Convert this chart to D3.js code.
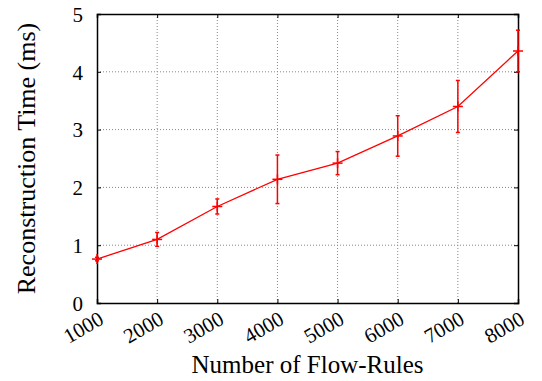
<!DOCTYPE html>
<html>
<head>
<meta charset="utf-8">
<script src="https://cdn.jsdelivr.net/npm/d3@7"></script>
</head>
<body style="margin:0">
<svg id="chart" width="542" height="381" font-family="Liberation Serif"></svg>
<script>
// chart data
var flowRules = [1000, 2000, 3000, 4000, 5000, 6000, 7000, 8000];
var recTime = [0.76, 1.10, 1.67, 2.14, 2.42, 2.89, 3.40, 4.36];
var recErr = [0.03, 0.12, 0.13, 0.42, 0.20, 0.35, 0.45, 0.36];
var yTicks = [0, 1, 2, 3, 4, 5];

var svgWidth = 542;
var svgHeight = 381;
var margin = { top: 14, right: 24, bottom: 78, left: 97 };
var width = svgWidth - margin.left - margin.right;
var height = svgHeight - margin.top - margin.bottom;

var svg = d3.select("#chart");

var chartGroup = svg
  .append("g")
  .attr("transform", `translate(${margin.left}, ${margin.top})`);

var x = d3.scaleLinear().domain([1000, 8000]).range([0, width]);
var y = d3.scaleLinear().domain([0, 5]).range([height, 0]);

// grid lines
chartGroup
  .append("g")
  .selectAll("line")
  .data(flowRules.slice(1, -1))
  .enter()
  .append("line")
  .attr("x1", (d) => x(d))
  .attr("x2", (d) => x(d))
  .attr("y1", 0)
  .attr("y2", height)
  .attr("stroke", "#888")
  .attr("stroke-width", 1)
  .attr("stroke-dasharray", "1,2");

chartGroup
  .append("g")
  .selectAll("line")
  .data(yTicks.slice(1, -1))
  .enter()
  .append("line")
  .attr("x1", 0)
  .attr("x2", width)
  .attr("y1", (d) => y(d))
  .attr("y2", (d) => y(d))
  .attr("stroke", "#888")
  .attr("stroke-width", 1)
  .attr("stroke-dasharray", "1,2");

// axes: ticks inward, mirrored
var bottomAxis = d3.axisBottom(x).tickValues(flowRules).tickSize(-4).tickFormat("");
var topAxis = d3.axisTop(x).tickValues(flowRules).tickSize(-4).tickFormat("");
var leftAxis = d3.axisLeft(y).tickValues(yTicks).tickSize(-4).tickPadding(14).tickFormat(d3.format("d"));
var rightAxis = d3.axisRight(y).tickValues(yTicks).tickSize(-4).tickFormat("");

chartGroup.append("g").attr("transform", `translate(0, ${height})`).call(bottomAxis);
chartGroup.append("g").call(topAxis);
var yAxis = chartGroup.append("g").call(leftAxis);
chartGroup.append("g").attr("transform", `translate(${width}, 0)`).call(rightAxis);

chartGroup.selectAll(".domain").attr("stroke", "#000").attr("stroke-width", 1.5);
chartGroup.selectAll(".tick line").attr("stroke", "#000");

// drop d3's default sans-serif on the axis groups
chartGroup.selectAll("g").attr("font-family", null).attr("font-size", null);
yAxis
  .selectAll("text")
  .attr("font-family", "Liberation Serif")
  .attr("font-size", 21)
  .attr("dy", "0.35em")
  .attr("fill", "#000");

// rotated x tick labels
chartGroup
  .append("g")
  .selectAll("text")
  .data(flowRules)
  .enter()
  .append("text")
  .attr("transform", (d) => `translate(${x(d) + 8}, ${height + 20}) rotate(-30)`)
  .attr("text-anchor", "end")
  .attr("font-family", "Liberation Serif")
  .attr("font-size", 21)
  .text((d) => d);

// line
var line = d3
  .line()
  .x((d, i) => x(flowRules[i]))
  .y((d) => y(d));

chartGroup
  .append("path")
  .datum(recTime)
  .attr("d", line)
  .attr("fill", "none")
  .attr("stroke", "#ff0000")
  .attr("stroke-width", 1.3);

// error bars
var errGroup = chartGroup
  .selectAll(".err")
  .data(recTime)
  .enter()
  .append("g")
  .attr("class", "err")
  .attr("stroke", "#ff0000")
  .attr("stroke-width", 1.5);

errGroup
  .append("line")
  .attr("x1", (d, i) => x(flowRules[i]))
  .attr("x2", (d, i) => x(flowRules[i]))
  .attr("y1", (d, i) => y(d - recErr[i]))
  .attr("y2", (d, i) => y(d + recErr[i]));

errGroup
  .append("line")
  .attr("x1", (d, i) => x(flowRules[i]) - 2)
  .attr("x2", (d, i) => x(flowRules[i]) + 2)
  .attr("y1", (d, i) => y(d - recErr[i]))
  .attr("y2", (d, i) => y(d - recErr[i]));

errGroup
  .append("line")
  .attr("x1", (d, i) => x(flowRules[i]) - 2)
  .attr("x2", (d, i) => x(flowRules[i]) + 2)
  .attr("y1", (d, i) => y(d + recErr[i]))
  .attr("y2", (d, i) => y(d + recErr[i]));

// point markers (+)
errGroup
  .append("line")
  .attr("x1", (d, i) => x(flowRules[i]) - 5)
  .attr("x2", (d, i) => x(flowRules[i]) + 5)
  .attr("y1", (d) => y(d))
  .attr("y2", (d) => y(d));

errGroup
  .append("line")
  .attr("x1", (d, i) => x(flowRules[i]))
  .attr("x2", (d, i) => x(flowRules[i]))
  .attr("y1", (d) => y(d) - 5)
  .attr("y2", (d) => y(d) + 5);

// axis titles
svg
  .append("text")
  .attr("x", margin.left + width / 2)
  .attr("y", 373)
  .attr("text-anchor", "middle")
  .attr("font-family", "Liberation Serif")
  .attr("font-size", 25)
  .text("Number of Flow-Rules");

svg
  .append("text")
  .attr("transform", `translate(35, ${margin.top + height / 2}) rotate(-90)`)
  .attr("text-anchor", "middle")
  .attr("font-family", "Liberation Serif")
  .attr("font-size", 26)
  .text("Reconstruction Time (ms)");
</script>
</body>
</html>
